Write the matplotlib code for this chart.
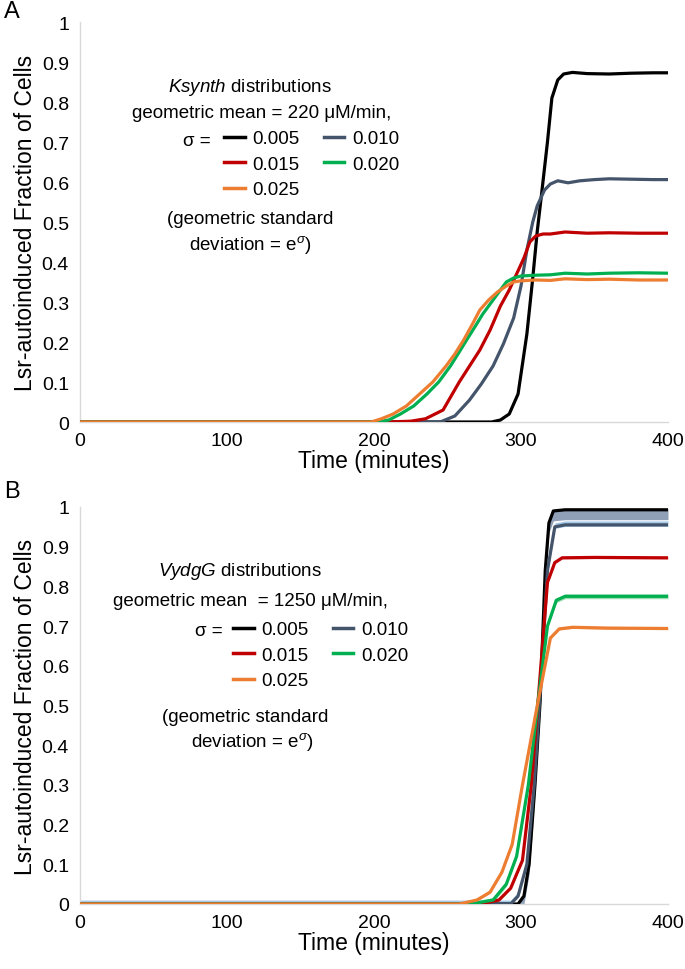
import numpy as np
import matplotlib
matplotlib.use("Agg")
import matplotlib.pyplot as plt
from matplotlib.lines import Line2D
from matplotlib.ticker import FuncFormatter

plt.rcParams['font.family'] = ['Liberation Sans', 'DejaVu Sans']
plt.rcParams['mathtext.fontset'] = 'custom'
plt.rcParams['mathtext.rm'] = 'Liberation Sans'
plt.rcParams['mathtext.it'] = 'Liberation Sans:italic'

sigmas = ['0.005', '0.010', '0.015', '0.020', '0.025']
colors = ['#000000', '#44546A', '#C00000', '#00B050', '#ED7D31']

# panel A (Ksynth)
t_a = [
    [0, 280, 286, 292, 298, 304, 308, 311, 314, 318, 321, 325, 329, 335, 345, 360, 375, 390, 400],
    [0, 245, 255, 265, 273, 281, 288, 295, 300, 304, 308, 311, 316, 320, 325, 332, 340, 350, 360, 375, 390, 400],
    [0, 210, 225, 235, 247, 258, 265, 272, 279, 286, 292, 297, 302, 306, 310, 315, 320, 330, 345, 360, 380, 400],
    [0, 202, 210, 218, 227, 236, 244, 252, 258, 263, 269, 274, 280, 286, 290, 295, 300, 310, 320, 330, 345, 360, 380, 400],
    [0, 198, 205, 213, 222, 231, 240, 249, 255, 261, 267, 272, 278, 284, 290, 295, 300, 310, 320, 330, 345, 360, 380, 400],
]
y_a = [
    [0, 0, 0.005, 0.02, 0.07, 0.22, 0.36, 0.475, 0.57, 0.70, 0.81, 0.855, 0.870, 0.874, 0.871, 0.870, 0.872, 0.873, 0.873],
    [0, 0, 0.015, 0.055, 0.095, 0.14, 0.195, 0.26, 0.34, 0.43, 0.50, 0.54, 0.58, 0.595, 0.603, 0.598, 0.603, 0.606, 0.608, 0.607, 0.606, 0.606],
    [0, 0, 0.002, 0.008, 0.03, 0.10, 0.14, 0.18, 0.23, 0.29, 0.33, 0.37, 0.41, 0.45, 0.465, 0.47, 0.47, 0.475, 0.472, 0.473, 0.472, 0.472],
    [0, 0, 0.005, 0.02, 0.04, 0.07, 0.10, 0.14, 0.175, 0.205, 0.24, 0.27, 0.30, 0.33, 0.35, 0.36, 0.365, 0.367, 0.368, 0.372, 0.370, 0.372, 0.373, 0.372],
    [0, 0, 0.008, 0.02, 0.04, 0.07, 0.10, 0.14, 0.17, 0.205, 0.245, 0.28, 0.305, 0.325, 0.34, 0.35, 0.353, 0.355, 0.354, 0.358, 0.356, 0.357, 0.355, 0.355],
]

# panel B (VydgG)
t_b = [
    [0, 298, 302, 305.5, 309.5, 313, 316.5, 319, 322, 330, 360, 400],
    [0, 293, 298, 304, 309, 314, 318, 323, 330, 360, 400],
    [0, 272, 285, 293, 301, 307, 311.6, 318, 323, 328, 350, 400],
    [0, 266, 281, 290, 297, 305, 311.6, 318, 324, 330, 350, 400],
    [0, 258, 270, 279, 287, 294, 301, 311.6, 320, 326, 335, 360, 400],
]
y_b = [
    [0, 0, 0.02, 0.10, 0.30, 0.51, 0.84, 0.96, 0.99, 0.993, 0.993, 0.993],
    [0, 0, 0.02, 0.10, 0.30, 0.59, 0.84, 0.95, 0.955, 0.955, 0.955],
    [0, 0, 0.01, 0.04, 0.11, 0.30, 0.51, 0.81, 0.86, 0.872, 0.873, 0.872],
    [0, 0, 0.01, 0.05, 0.12, 0.30, 0.51, 0.70, 0.765, 0.775, 0.775, 0.775],
    [0, 0, 0.01, 0.03, 0.08, 0.15, 0.30, 0.51, 0.67, 0.693, 0.697, 0.695, 0.694],
]
# spread bands shown in panel B (below, above the line)
band_b = [(0.025, 0.003), (0.004, 0.010), (0.003, 0.003), (0.006, 0.006), (0.003, 0.003)]
band_colors = ['#8497B0', '#9DC3E6', '#E6A0A0', '#92D8A8', '#F4B183']

W, H = 685, 970
fig = plt.figure(figsize=(W / 100, H / 100), dpi=100)


def fx(px):
    return px / W


def fy(py):
    return 1 - py / H


def setup(ax):
    ax.set_xlim(0, 400)
    ax.set_ylim(0, 1)
    ax.set_xticks([0, 100, 200, 300, 400])
    ax.set_yticks(np.arange(0, 1.01, 0.1))
    ax.yaxis.set_major_formatter(FuncFormatter(lambda v, p: '%g' % round(v, 1)))
    ax.tick_params(length=0, labelsize=14, pad=8)
    ax.tick_params(axis='x', pad=7)
    for s in ['top', 'right']:
        ax.spines[s].set_visible(False)
    for s in ['left', 'bottom']:
        ax.spines[s].set_color('#D9D9D9')
        ax.spines[s].set_linewidth(1)
    ax.set_xlabel('Time (minutes)', fontsize=16.5, labelpad=0)
    ax.set_ylabel('Lsr-autoinduced Fraction of Cells', fontsize=16.5, labelpad=3)


axA = fig.add_axes([fx(80), fy(423), fx(668) - fx(80), fy(23) - fy(423)])
axB = fig.add_axes([fx(80), fy(905), fx(668) - fx(80), fy(508) - fy(905)])
setup(axA)
setup(axB)

for i in range(5):
    axA.plot(t_a[i], y_a[i], color=colors[i], lw=2.3, zorder=3)

for i in range(5):
    yb = np.array(y_b[i])
    lo, hi = band_b[i]
    axB.fill_between(t_b[i], np.clip(yb - lo, 0, 1), yb + hi, color=band_colors[i],
                     lw=0, alpha=0.9, zorder=2)
for i in range(5):
    axB.plot(t_b[i], y_b[i], color=colors[i], lw=2.3, zorder=3)

fig.text(fx(12), fy(12), 'A', fontsize=17, va='center', ha='center')
fig.text(fx(12), fy(492), 'B', fontsize=17, va='center', ha='center')

order = [0, 2, 4, 1, 3]
handles = [Line2D([], [], color=colors[i], lw=2.5) for i in order]
labels = [sigmas[i] for i in order]

fs = 13.5
txt = dict(fontsize=fs, ha='center', va='center')
leg_kw = dict(ncol=2, frameon=False, fontsize=fs, loc='upper left', handlelength=1.1,
              handletextpad=0.4, columnspacing=1.3, labelspacing=0.45, borderpad=0,
              borderaxespad=0)

# panel A annotation
fig.text(fx(250), fy(88), r'$\mathit{Ksynth}$ distributions', **txt)
fig.text(fx(262), fy(114), 'geometric mean = 220 \u03bcM/min,', **txt)
fig.text(fx(197), fy(141), '\u03c3 =', **txt)
fig.text(fx(250), fy(219), '(geometric standard', **txt)
fig.text(fx(250), fy(245), r'deviation = e$^{\sigma}$)', **txt)
fig.legend(handles, labels, bbox_to_anchor=(fx(224), fy(131)), **leg_kw)

# panel B annotation
fig.text(fx(240), fy(571), r'$\mathit{VydgG}$ distributions', **txt)
fig.text(fx(250), fy(601), 'geometric mean  = 1250 \u03bcM/min,', **txt)
fig.text(fx(209), fy(632), '\u03c3 =', **txt)
fig.text(fx(245), fy(718), '(geometric standard', **txt)
fig.text(fx(252), fy(742), r'deviation = e$^{\sigma}$)', **txt)
fig.legend(handles, labels, bbox_to_anchor=(fx(233), fy(622)), **leg_kw)

fig.savefig('out.png', dpi=100)
